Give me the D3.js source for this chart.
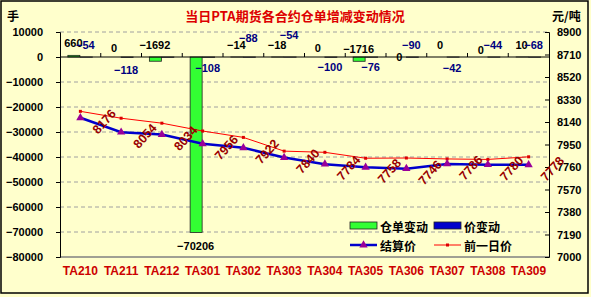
<!DOCTYPE html>
<html>
<head>
<meta charset="utf-8">
<script src="https://cdn.jsdelivr.net/npm/d3@7/dist/d3.min.js"></script>
<style>
  body { margin: 0; background: #fff; }
  svg text { font-family: "Liberation Sans", Arial, sans-serif; }
  .cjk { font-family: "Noto Sans CJK SC", sans-serif !important; }
</style>
</head>
<body>
<div id="chart"></div>
<script>
// chart data
var categories = ["TA210","TA211","TA212","TA301","TA302","TA303","TA304","TA305","TA306","TA307","TA308","TA309"];
var receiptChange = [660, 0, -1692, -70206, -14, -18, 0, -1716, 0, 0, 0, 10];   // 仓单变动
var priceChange = [-54, -118, -96, -108, -88, -54, -100, -76, -90, -42, -44, -68]; // 价变动
var settlePrice = [8176, 8054, 8034, 7956, 7922, 7840, 7784, 7758, 7746, 7786, 7780, 7778]; // 结算价
var prevPrice = [8230, 8172, 8130, 8064, 8010, 7894, 7884, 7834, 7836, 7828, 7824, 7846];   // 前一日价
var leftTicks = d3.range(10000, -80001, -10000);
var rightTicks = d3.range(7000, 8901, 190);

// label placement (px from zero line); null = below bar end, "none" = hidden
var greenLabelDy = [-14, -9, -12, null, -12, -12, -9, -8, 0, -12, -7, -12];
var blueLabelDy = [-12, 13, "none", 11, -19, -22, 10, 10, -12, 11, -12, -12];

var W = 591, H = 297;
var mLeft = 60, mRight = 549, mTop = 32, mBottom = 257;

var svg = d3.select("#chart").append("svg")
  .attr("width", W).attr("height", H);

svg.append("rect").attr("x", 0).attr("y", 0).attr("width", W).attr("height", H).attr("fill", "#ffffcc");
svg.append("rect").attr("x", 1).attr("y", 1).attr("width", 587).attr("height", 292)
  .attr("fill", "#ffffcc").attr("stroke", "#000").attr("stroke-width", 1.5);

var x = d3.scaleBand().domain(categories).range([mLeft, mRight]).padding(0);
var yL = d3.scaleLinear().domain([-80000, 10000]).range([mBottom, mTop]);
var yR = d3.scaleLinear().domain([7000, 8900]).range([mBottom, mTop]);
var bw = 12;
function cx(i) { return x(categories[i]) + x.bandwidth() / 2; }
function minus(v) { return String(v).replace("-", "−"); }

// gridlines
svg.append("g").selectAll("line")
  .data(leftTicks.filter(function(d){ return d != 0 && d != -80000; }))
  .enter().append("line")
  .attr("x1", mLeft).attr("x2", mRight)
  .attr("y1", function(d){ return yL(d); }).attr("y2", function(d){ return yL(d); })
  .attr("stroke", "#a0a0a0").attr("stroke-dasharray", "4,3").attr("stroke-width", 1);

// bottom line
svg.append("line").attr("x1", mLeft).attr("x2", mRight).attr("y1", mBottom).attr("y2", mBottom)
  .attr("stroke", "#808080").attr("stroke-width", 1.5);

// left axis
var gl = svg.append("g").attr("transform", "translate(" + mLeft + ",0)")
  .call(d3.axisLeft(yL).tickValues(leftTicks).tickSize(4).tickFormat(d3.format("d")));
gl.select(".domain").attr("stroke", "#000");
gl.selectAll("text").attr("font-size", 11).attr("font-weight", "bold").attr("x", -17).attr("fill", "#000")
  .text(function(d){ return minus(d); });

// right axis
var gr = svg.append("g").attr("transform", "translate(" + mRight + ",0)")
  .call(d3.axisRight(yR).tickValues(rightTicks).tickSize(-4).tickFormat(d3.format("d")));
gr.selectAll("text").attr("font-size", 11).attr("font-weight", "bold").attr("x", 8).attr("fill", "#000");

// bars
svg.append("g").selectAll("rect")
  .data(receiptChange).enter().append("rect")
  .attr("x", function(d, i){ return cx(i) - bw - 0.5; })
  .attr("y", function(d){ return Math.min(yL(d), yL(0)); })
  .attr("width", bw)
  .attr("height", function(d){ return Math.abs(yL(d) - yL(0)); })
  .attr("fill", "#33ff33").attr("stroke", "#222").attr("stroke-width", 0.8);

svg.append("g").selectAll("rect")
  .data(priceChange).enter().append("rect")
  .attr("x", function(d, i){ return cx(i); })
  .attr("y", function(d){ return Math.min(yL(d), yL(0)); })
  .attr("width", bw)
  .attr("height", function(d){ return Math.abs(yL(d) - yL(0)); })
  .attr("fill", "#0000cc").attr("stroke", "#222").attr("stroke-width", 0.8);

// category axis at zero
var gx = svg.append("g").attr("transform", "translate(0," + yL(0) + ")");
gx.append("line").attr("x1", mLeft).attr("x2", mRight).attr("stroke", "#000").attr("stroke-width", 1);
gx.selectAll("line.tk").data(d3.range(1, categories.length)).enter().append("line")
  .attr("class", "tk")
  .attr("x1", function(i){ return x(categories[i]); }).attr("x2", function(i){ return x(categories[i]); })
  .attr("y1", 0).attr("y2", -4).attr("stroke", "#000");

// category labels
svg.append("g").selectAll("text").data(categories).enter().append("text")
  .attr("x", function(d, i){ return cx(i); }).attr("y", 271)
  .attr("text-anchor", "middle").attr("dominant-baseline", "central")
  .attr("font-size", 12).attr("font-weight", "bold").attr("fill", "#cc0000")
  .text(function(d){ return d; });

// bar labels
svg.append("g").selectAll("text").data(receiptChange).enter().append("text")
  .attr("x", function(d, i){ return cx(i) - 7; })
  .attr("y", function(d, i){
    return greenLabelDy[i] == null ? yL(d) + 13 : yL(0) + greenLabelDy[i];
  })
  .attr("text-anchor", "middle").attr("dominant-baseline", "central")
  .attr("font-size", 11).attr("font-weight", "bold").attr("fill", "#000")
  .text(function(d){ return minus(d); });

var blueG = svg.append("g");
priceChange.forEach(function(d, i){
  if (blueLabelDy[i] == "none") return;
  blueG.append("text")
    .attr("x", cx(i) + 5).attr("y", yL(0) + blueLabelDy[i])
    .attr("text-anchor", "middle").attr("dominant-baseline", "central")
    .attr("font-size", 11).attr("font-weight", "bold").attr("fill", "#000080")
    .text(minus(d));
});

// price lines
var lineR = d3.line().x(function(d, i){ return cx(i); }).y(function(d){ return yR(d); });

svg.append("path").datum(prevPrice).attr("d", lineR)
  .attr("fill", "none").attr("stroke", "#ff0000").attr("stroke-width", 1);
svg.append("g").selectAll("rect").data(prevPrice).enter().append("rect")
  .attr("x", function(d, i){ return cx(i) - 1.5; }).attr("y", function(d){ return yR(d) - 1.5; })
  .attr("width", 3).attr("height", 3).attr("fill", "#dd0000");

svg.append("path").datum(settlePrice).attr("d", lineR)
  .attr("fill", "none").attr("stroke", "#0000cc").attr("stroke-width", 2.5);
var tri = d3.symbol().type(d3.symbolTriangle).size(30);
svg.append("g").selectAll("path").data(settlePrice).enter().append("path")
  .attr("d", tri)
  .attr("transform", function(d, i){ return "translate(" + cx(i) + "," + yR(d) + ")"; })
  .attr("fill", "#990099");

svg.append("g").selectAll("text").data(settlePrice).enter().append("text")
  .attr("transform", function(d, i){
    return "translate(" + (cx(i) + 24) + "," + (yR(d) + 4) + ") rotate(-48)";
  })
  .attr("text-anchor", "middle").attr("dominant-baseline", "central")
  .attr("font-size", 12.5).attr("font-weight", "bold").attr("fill", "#990000")
  .text(function(d){ return d; });

// titles
svg.append("text").attr("class", "cjk").attr("x", 295).attr("y", 15)
  .attr("text-anchor", "middle").attr("dominant-baseline", "central")
  .attr("font-size", 13).attr("font-weight", "bold").attr("fill", "#dd0000")
  .text("当日PTA期货各合约仓单增减变动情况");
svg.append("text").attr("class", "cjk").attr("x", 7).attr("y", 15)
  .attr("dominant-baseline", "central")
  .attr("font-size", 12).attr("font-weight", "bold").attr("fill", "#000").text("手");
svg.append("text").attr("class", "cjk").attr("x", 552).attr("y", 15)
  .attr("dominant-baseline", "central")
  .attr("font-size", 12).attr("font-weight", "bold").attr("fill", "#000").text("元/吨");

// legend
var lg = svg.append("g");
lg.append("rect").attr("x", 350).attr("y", 222).attr("width", 27).attr("height", 7)
  .attr("fill", "#33ff33").attr("stroke", "#222").attr("stroke-width", 0.8);
lg.append("rect").attr("x", 434).attr("y", 222).attr("width", 27).attr("height", 7)
  .attr("fill", "#0000cc").attr("stroke", "#222").attr("stroke-width", 0.8);
lg.append("line").attr("x1", 350).attr("x2", 377).attr("y1", 245).attr("y2", 245)
  .attr("stroke", "#0000cc").attr("stroke-width", 2.5);
lg.append("path").attr("d", tri).attr("transform", "translate(363.5,245)").attr("fill", "#990099");
lg.append("line").attr("x1", 434).attr("x2", 461).attr("y1", 245).attr("y2", 245)
  .attr("stroke", "#ff0000").attr("stroke-width", 1);
lg.append("rect").attr("x", 446).attr("y", 243.5).attr("width", 3).attr("height", 3).attr("fill", "#dd0000");
[["仓单变动", 380, 226], ["价变动", 464, 226], ["结算价", 380, 245], ["前一日价", 464, 245]].forEach(function(t){
  lg.append("text").attr("class", "cjk").attr("x", t[1]).attr("y", t[2])
    .attr("dominant-baseline", "central")
    .attr("font-size", 12).attr("font-weight", "bold").attr("fill", "#000").text(t[0]);
});
</script>
</body>
</html>
